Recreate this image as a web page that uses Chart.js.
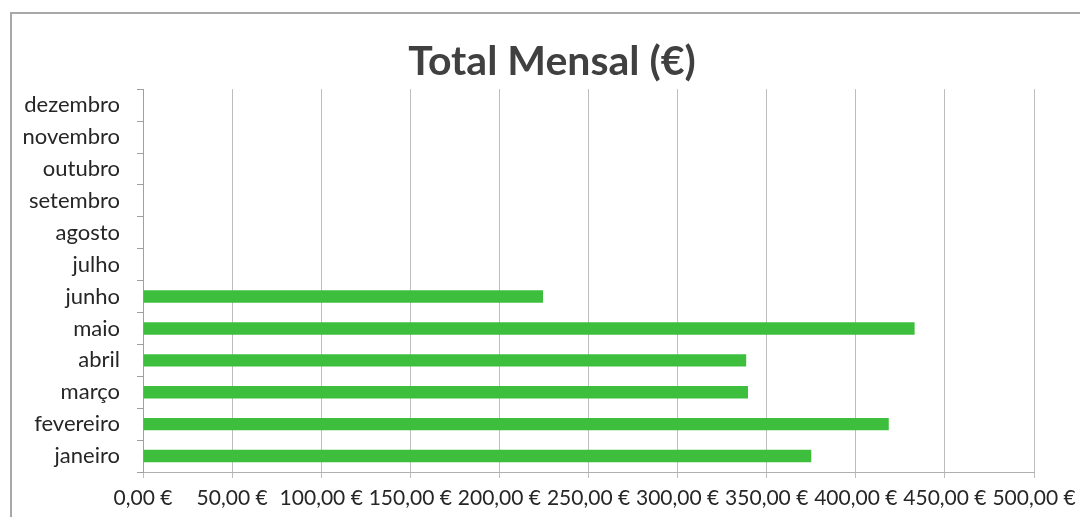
<!DOCTYPE html>
<html>
<head>
<meta charset="utf-8">
<script src="https://cdn.jsdelivr.net/npm/chart.js@4"></script>
<style>
  html, body { margin: 0; padding: 0; background: #fff; overflow: hidden; }
  #wrap { position: relative; width: 1080px; height: 517px; }
  #frame { position: absolute; left: 10px; top: 12px; width: 1200px; height: 700px;
           border-left: 2px solid #a8a8a8; border-top: 2px solid #a8a8a8; }
  canvas { position: absolute; left: 0; top: 0; }
</style>
</head>
<body>
<div id="wrap">
  <div id="frame"></div>
  <canvas id="c" width="1080" height="517"></canvas>
</div>
<script>
const months = ['janeiro','fevereiro','março','abril','maio','junho','julho','agosto','setembro','outubro','novembro','dezembro'];
const totals = [375, 418.5, 339.5, 338.5, 433, 224.5, null, null, null, null, null, null];
const xTickLabels = ['0,00 €','50,00 €','100,00 €','150,00 €','200,00 €','250,00 €','300,00 €','350,00 €','400,00 €','450,00 €','500,00 €'];
const titleText = 'Total Mensal (€)';

const FONT = 'Lato, "Open Sans", sans-serif';

const shiftTitle = {
  id: 'shiftTitle',
  afterLayout(chart) {
    const t = chart.titleBlock;
    if (t) { t.left = 0; t.right = 1104; t.width = 1104; }
  }
};

new Chart(document.getElementById('c'), {
  type: 'bar',
  data: {
    labels: months,
    datasets: [{
      data: totals,
      backgroundColor: '#3dbf3d',
      borderWidth: 0,
      barPercentage: 0.39,
      categoryPercentage: 1.0
    }]
  },
  plugins: [shiftTitle],
  options: {
    indexAxis: 'y',
    responsive: false,
    animation: false,
    layout: { padding: { left: 0, right: 46, top: 0, bottom: 0 } },
    plugins: {
      legend: { display: false },
      tooltip: { enabled: false },
      title: {
        display: true,
        text: titleText,
        color: '#404040',
        font: { family: FONT, size: 41, weight: 'bold', lineHeight: 1.2 },
        padding: { top: 37, bottom: 3 }
      }
    },
    scales: {
      x: {
        min: 0, max: 500,
        ticks: {
          stepSize: 50,
          color: '#262626',
          font: { family: FONT, size: 21 },
          padding: 8,
          maxRotation: 0,
          autoSkip: false,
          callback: (v, i) => xTickLabels[i]
        },
        grid: { color: '#bdbdbd', lineWidth: 1, tickLength: 6, drawTicks: true },
        border: { color: '#b0b0b0' },
        afterFit: s => { s.height = 45; s.paddingRight = 0; s.paddingLeft = 0; }
      },
      y: {
        reverse: true,
        offset: true,
        ticks: {
          color: '#262626',
          font: { family: FONT, size: 22 },
          padding: 17,
          autoSkip: false
        },
        grid: { offset: true, drawOnChartArea: false, tickLength: 6, color: '#a0a0a0' },
        border: { color: '#a0a0a0' },
        afterFit: s => { s.width = 143; }
      }
    }
  }
});
</script>
</body>
</html>
